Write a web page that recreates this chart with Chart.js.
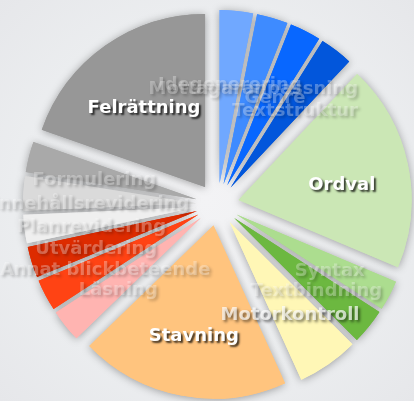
<!DOCTYPE html>
<html>
<head>
<meta charset="utf-8">
<script src="https://cdn.jsdelivr.net/npm/chart.js@4.4.1/dist/chart.umd.min.js"></script>
<style>
  html, body { margin: 0; padding: 0; }
  body {
    width: 414px; height: 401px; overflow: hidden;
    background: radial-gradient(ellipse at 50% 50%, #f3f3f5 0%, #eceef0 60%, #e6e7ea 100%);
  }
  canvas { display: block; }
</style>
</head>
<body>
<canvas id="chart" width="414" height="401"></canvas>
<script>
// shares of observed time, clockwise from 12 o'clock
const categories = [
  'Idegenerering', 'Mottagaranpassning', 'Genre', 'Textstruktur',
  'Ordval', 'Syntax', 'Textbindning', 'Motorkontroll', 'Stavning',
  'Läsning', 'Annat blickbeteende', 'Utvärdering', 'Planrevidering',
  'Innehållsrevidering', 'Formulering', 'Felrättning'
];
const shares = [3.1, 2.9, 2.9, 3.1, 19.3, 2.8, 3.3, 5.75, 19.5, 3.05, 2.95, 2.9, 2.65, 3.2, 2.85, 19.6];

const sliceColors = [
  '#70a8ff', '#3e8bff', '#0867ff', '#0256db',
  '#cbe7b5', '#acdd8f', '#6cb840', '#fff7b6', '#ffc47e',
  '#ffb4b1', '#ff4314', '#dd2b00', '#efefef',
  '#dadada', '#a9a9a9', '#979797'
];
// how strongly each label shows (the small ones are ghosted)
const labelOpacity = [0.3, 0.3, 0.3, 0.3, 1, 0.3, 0.3, 0.7, 1, 0.3, 0.3, 0.3, 0.3, 0.3, 0.3, 1];

const EXPLODE = 21.5;

class ExplodedPie extends Chart.PieController {
  draw() {
    const ctx = this.chart.ctx;
    const arcs = this._cachedMeta.data;
    // shadows first, then the slices on top
    for (const pass of [0, 1]) {
      arcs.forEach(arc => {
        const mid = (arc.startAngle + arc.endAngle) / 2;
        ctx.save();
        ctx.translate(Math.cos(mid) * EXPLODE, Math.sin(mid) * EXPLODE);
        if (pass === 0) {
          ctx.shadowColor = 'rgba(0,0,0,0.35)';
          ctx.shadowBlur = 8;
          ctx.shadowOffsetY = 1;
        }
        arc.draw(ctx);
        ctx.restore();
      });
    }
  }
}
ExplodedPie.id = 'explodedPie';
ExplodedPie.defaults = Chart.PieController.defaults;
Chart.register(ExplodedPie);

const sliceLabels = {
  id: 'sliceLabels',
  afterDatasetsDraw(chart) {
    const ctx = chart.ctx;
    chart.getDatasetMeta(0).data.forEach((arc, i) => {
      const mid = (arc.startAngle + arc.endAngle) / 2;
      const r = EXPLODE + arc.outerRadius * 0.61;
      const x = arc.x + Math.cos(mid) * r;
      const y = arc.y + Math.sin(mid) * r + 7;
      const faint = labelOpacity[i] < 1;
      ctx.save();
      ctx.globalAlpha = labelOpacity[i];
      ctx.font = 'bold 18px "DejaVu Sans"';
      ctx.textAlign = 'center';
      ctx.textBaseline = 'middle';
      ctx.shadowColor = 'rgba(0,0,0,0.75)';
      ctx.shadowBlur = faint ? 3 : 2;
      ctx.shadowOffsetX = 2;
      ctx.shadowOffsetY = 2;
      ctx.fillStyle = '#ffffff';
      ctx.fillText(categories[i], x, y);
      ctx.restore();
    });
  }
};

new Chart(document.getElementById('chart'), {
  type: 'explodedPie',
  data: {
    labels: categories,
    datasets: [{
      data: shares,
      backgroundColor: sliceColors,
      borderWidth: 0
    }]
  },
  options: {
    responsive: false,
    animation: false,
    devicePixelRatio: 1,
    radius: 173,
    layout: { padding: { left: 21, right: 0, top: 8, bottom: 0 } },
    plugins: {
      legend: { display: false },
      tooltip: { enabled: false }
    }
  },
  plugins: [sliceLabels]
});
</script>
</body>
</html>
